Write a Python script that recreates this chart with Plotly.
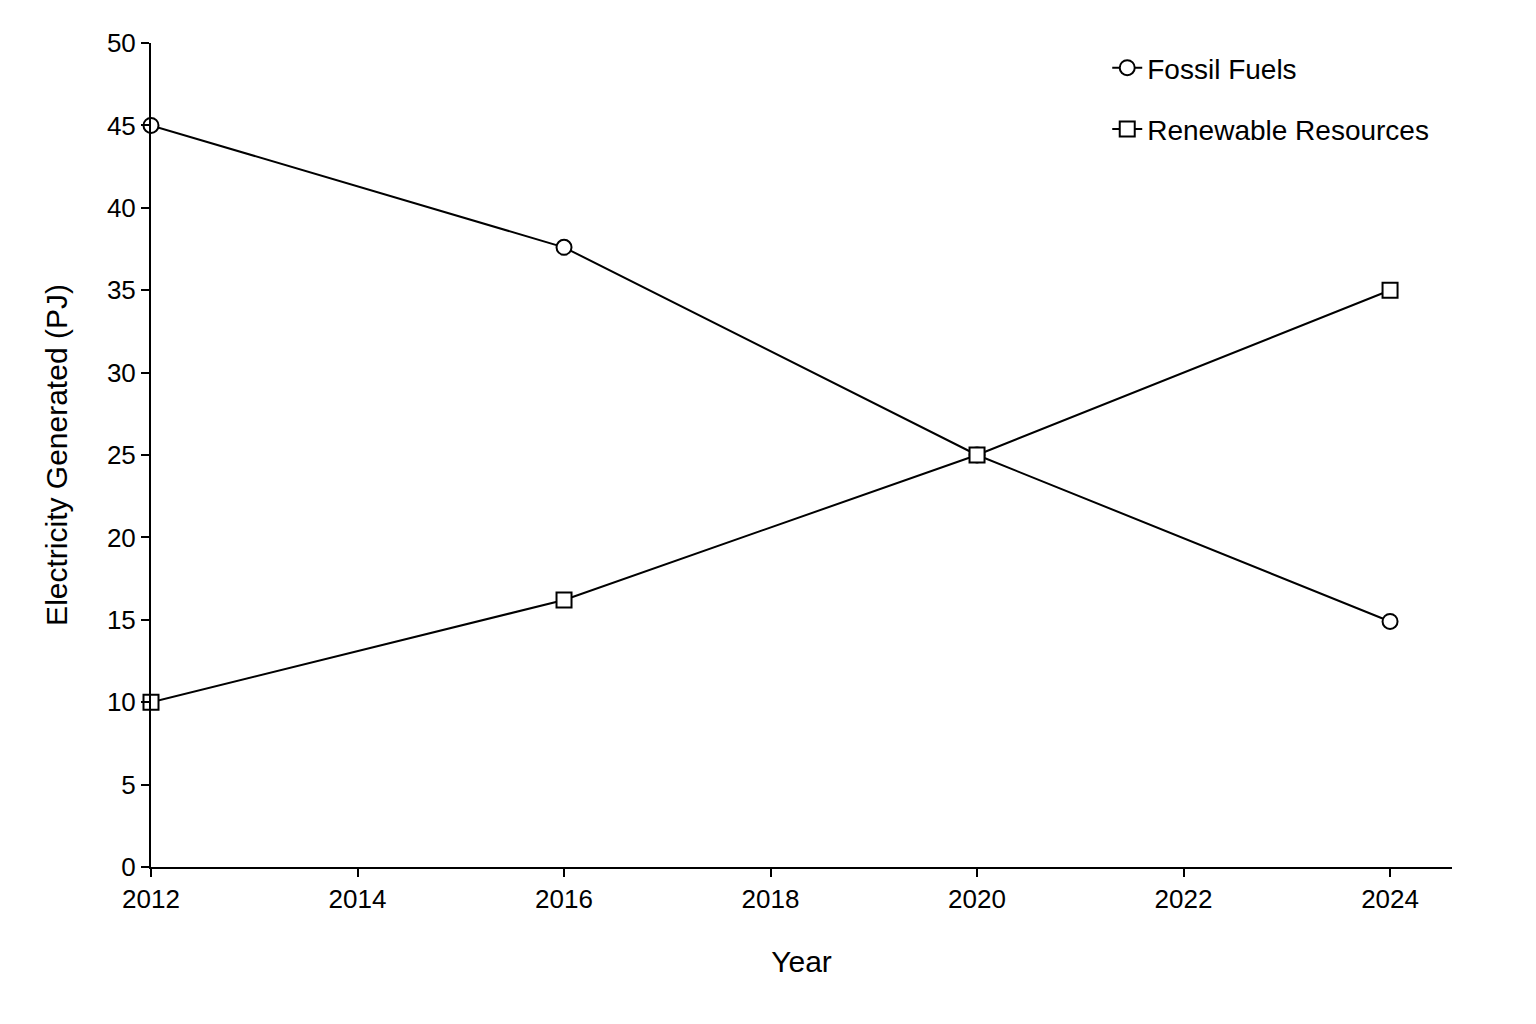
import plotly.graph_objects as go

years = [2012, 2016, 2020, 2024]
fossil = [45, 37.6, 25, 14.9]
renewable = [10, 16.2, 25, 35]

fig = go.Figure()
fig.add_trace(go.Scatter(x=years, y=fossil, name="Fossil Fuels", mode="lines+markers",
                         legendgroup="a",
                         line=dict(color="black", width=2),
                         marker=dict(symbol="circle", size=15, color="white",
                                     line=dict(color="black", width=2))))
fig.add_trace(go.Scatter(x=years, y=renewable, name="Renewable Resources", mode="lines+markers",
                         legendgroup="b",
                         line=dict(color="black", width=2),
                         marker=dict(symbol="square", size=15, color="white",
                                     line=dict(color="black", width=2))))

axis_style = dict(showline=True, linecolor="black", linewidth=2, ticks="outside",
                  ticklen=8, tickwidth=2, tickcolor="black", showgrid=False,
                  zeroline=False, tickfont=dict(size=26, color="black"))
fig.update_xaxes(range=[2012, 2024.6], tickvals=[2012, 2014, 2016, 2018, 2020, 2022, 2024],
                 title=dict(text="Year", font=dict(size=30, color="black"), standoff=38),
                 **axis_style)
fig.update_yaxes(range=[0, 50], dtick=5,
                 title=dict(text="Electricity Generated (PJ)", font=dict(size=30, color="black"), standoff=30),
                 **axis_style)

fig.update_layout(
    width=1536, height=1024,
    plot_bgcolor="white", paper_bgcolor="white",
    font=dict(family="Liberation Sans, Arial, sans-serif", color="black"),
    margin=dict(l=143, r=92, t=35, b=165),
    legend=dict(x=0.735, y=1.0, xanchor="left", yanchor="top", bgcolor="rgba(0,0,0,0)",
                font=dict(size=28, color="black"), traceorder="grouped", tracegroupgap=22),
)
fig.update_traces(cliponaxis=False)

fig.write_html("out.html")
